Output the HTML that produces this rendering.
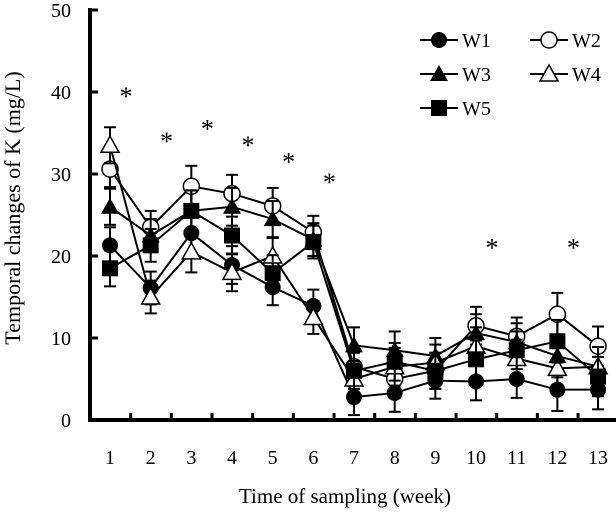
<!DOCTYPE html>
<html><head><meta charset="utf-8"><style>
body{margin:0;background:#fff;}
svg{font-family:"Liberation Serif",serif;}
</style></head><body>
<svg id="c" width="616" height="510"></svg>
<script>
const weeks=[1,2,3,4,5,6,7,8,9,10,11,12,13];
const w1=[21.3,16.1,22.8,18.9,16.2,13.9,2.8,3.3,4.8,4.7,5.0,3.7,3.7];
const w2=[30.6,23.5,28.5,27.6,26.1,22.9,6.5,5.0,6.0,11.5,10.2,12.9,9.0];
const w3=[26.0,22.5,25.5,26.0,24.5,22.0,9.1,8.5,7.8,10.6,9.5,7.8,6.5];
const w4=[33.5,15.0,20.5,18.0,20.0,12.5,5.0,6.5,7.0,9.0,7.5,6.3,6.5];
const w5=[18.5,21.3,25.5,22.5,17.9,21.7,6.0,7.1,6.0,7.4,8.5,9.6,5.3];
const errs=[2.2,2.0,2.5,2.3,2.2,2.0,2.2,2.3,2.2,2.3,2.3,2.6,2.4];
const yTicks=[0,10,20,30,40,50];
const starWeeks=[1,2,3,4,5,6,10,12];
const starVals=[40.5,35,36.5,34.5,32.5,30,22,22];
const NS='http://www.w3.org/2000/svg';
const svg=document.getElementById('c');
const X=w=>110+(w-1)*40.67;
const Y=v=>420-v*8.2;
function el(t,a,p){const e=document.createElementNS(NS,t);for(const k in a)e.setAttribute(k,a[k]);(p||svg).appendChild(e);return e;}
let ax=el('line',{x1:90,y1:8,x2:90,y2:422,stroke:'#000','stroke-width':4});


let bx=el('line',{x1:88,y1:420,x2:616,y2:420,stroke:'#000','stroke-width':4});


yTicks.forEach(v=>{
 el('line',{x1:90,y1:Y(v),x2:98,y2:Y(v),stroke:'#000','stroke-width':3});
 const t=el('text',{x:71,y:Y(v)+7,'text-anchor':'end','font-size':20});t.textContent=v;
 
 
});
weeks.forEach(w=>{
 el('line',{x1:X(w)-20,y1:420,x2:X(w)-20,y2:413,stroke:'#000','stroke-width':3});
 const t=el('text',{x:X(w),y:464,'text-anchor':'middle','font-size':20});t.textContent=w;
 
 
});
let yt=el('text',{x:0,y:0,transform:'translate(20,208) rotate(-90)','text-anchor':'middle','font-size':22});
yt.textContent='Temporal changes of K (mg/L)';


let xt=el('text',{x:345,y:503,'text-anchor':'middle','font-size':21});
xt.textContent='Time of sampling (week)';


function marker(type,x,y,g){
 if(type==='fc')return el('circle',{cx:x,cy:y,r:8,fill:'#000'},g);
 if(type==='oc')return el('circle',{cx:x,cy:y,r:8,fill:'#fff',stroke:'#000','stroke-width':1.5},g);
 if(type==='ft')return el('polygon',{points:`${x},${y-9} ${x-9},${y+7} ${x+9},${y+7}`,fill:'#000'},g);
 if(type==='ot')return el('polygon',{points:`${x},${y-9} ${x-9},${y+7} ${x+9},${y+7}`,fill:'#fff',stroke:'#000','stroke-width':1.5},g);
 return el('rect',{x:x-8,y:y-8,width:16,height:16,fill:'#000'},g);
}
const series=[['w1',w1,'fc'],['w2',w2,'oc'],['w3',w3,'ft'],['w4',w4,'ot'],['w5',w5,'sq']];
series.forEach(([n,d,m])=>{
 const g=el('g',{});
 
 
 d.forEach((v,i)=>{const x=X(weeks[i]),e=errs[i];
  el('line',{x1:x,y1:Y(v-e),x2:x,y2:Y(v+e),stroke:'#000','stroke-width':2},g);
  el('line',{x1:x-6,y1:Y(v+e),x2:x+6,y2:Y(v+e),stroke:'#000','stroke-width':2},g);
  el('line',{x1:x-6,y1:Y(v-e),x2:x+6,y2:Y(v-e),stroke:'#000','stroke-width':2},g);});
 el('polyline',{points:d.map((v,i)=>X(weeks[i])+','+Y(v)).join(' '),fill:'none',stroke:'#000','stroke-width':2},g);
 d.forEach((v,i)=>{const mk=marker(m,X(weeks[i]),Y(v),g);
  
  });
});
starWeeks.forEach((w,i)=>{const t=el('text',{x:X(w)+16,y:Y(starVals[i])+17,'text-anchor':'middle','font-size':26});t.textContent='*';
 
 });
const leg=[['W1','fc',420,40],['W2','oc',530,40],['W3','ft',420,74],['W4','ot',530,74],['W5','sq',420,108]];
leg.forEach(([l,m,x,y])=>{const g=el('g',{});
 
 
 el('line',{x1:x,y1:y,x2:x+38,y2:y,stroke:'#000','stroke-width':2},g);
 marker(m,x+19,y,g);
 const t=el('text',{x:x+42,y:y+7,'font-size':20},g);t.textContent=l;});
</script>
</body></html>
